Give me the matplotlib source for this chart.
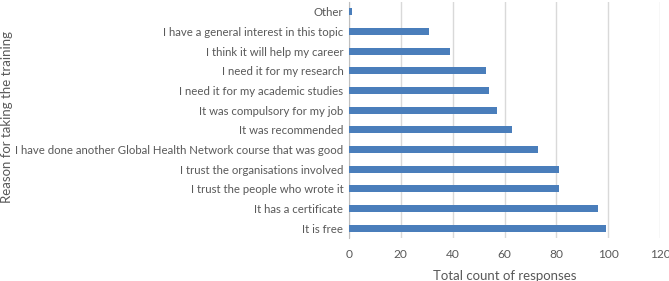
import matplotlib
matplotlib.use("Agg")
import matplotlib.pyplot as plt

# Data (bottom to top)
reasons = [
    "It is free",
    "It has a certificate",
    "I trust the people who wrote it",
    "I trust the organisations involved",
    "I have done another Global Health Network course that was good",
    "It was recommended",
    "It was compulsory for my job",
    "I need it for my academic studies",
    "I need it for my research",
    "I think it will help my career",
    "I have a general interest in this topic",
    "Other",
]
counts = [99, 96, 81, 81, 73, 63, 57, 54, 53, 39, 31, 1]
x_ticks = [0, 20, 40, 60, 80, 100, 120]

plt.rcParams['font.family'] = ['Lato', 'DejaVu Sans']
text_col = "#595959"

fig = plt.figure(figsize=(6.69, 2.81), dpi=100)
ax = fig.add_axes([349 / 669, 1 - 238 / 281, 311 / 669, 236 / 281])

ax.barh(range(len(reasons)), counts, height=0.36, color="#4A7EBB", zorder=3)

ax.set_xlim(0, 120)
ax.set_ylim(-0.5, len(reasons) - 0.5)
ax.set_xticks(x_ticks)
ax.set_yticks(range(len(reasons)))
ax.set_yticklabels(reasons)
ax.grid(axis="x", color="#D9D9D9", linewidth=1, zorder=0)
ax.tick_params(axis="both", length=0, colors=text_col)
ax.tick_params(axis="y", labelsize=8.2, pad=4)
ax.tick_params(axis="x", labelsize=8.6, pad=8)

for s in ["top", "right", "bottom"]:
    ax.spines[s].set_visible(False)
ax.spines["left"].set_color("#BFBFBF")

ax.set_xlabel("Total count of responses", fontsize=9.5, color=text_col, labelpad=7)
fig.text(7 / 669, 0.584, "Reason for taking the training", rotation=90,
         fontsize=9.5, color=text_col, ha="center", va="center")

fig.savefig("out.png", dpi=100)
